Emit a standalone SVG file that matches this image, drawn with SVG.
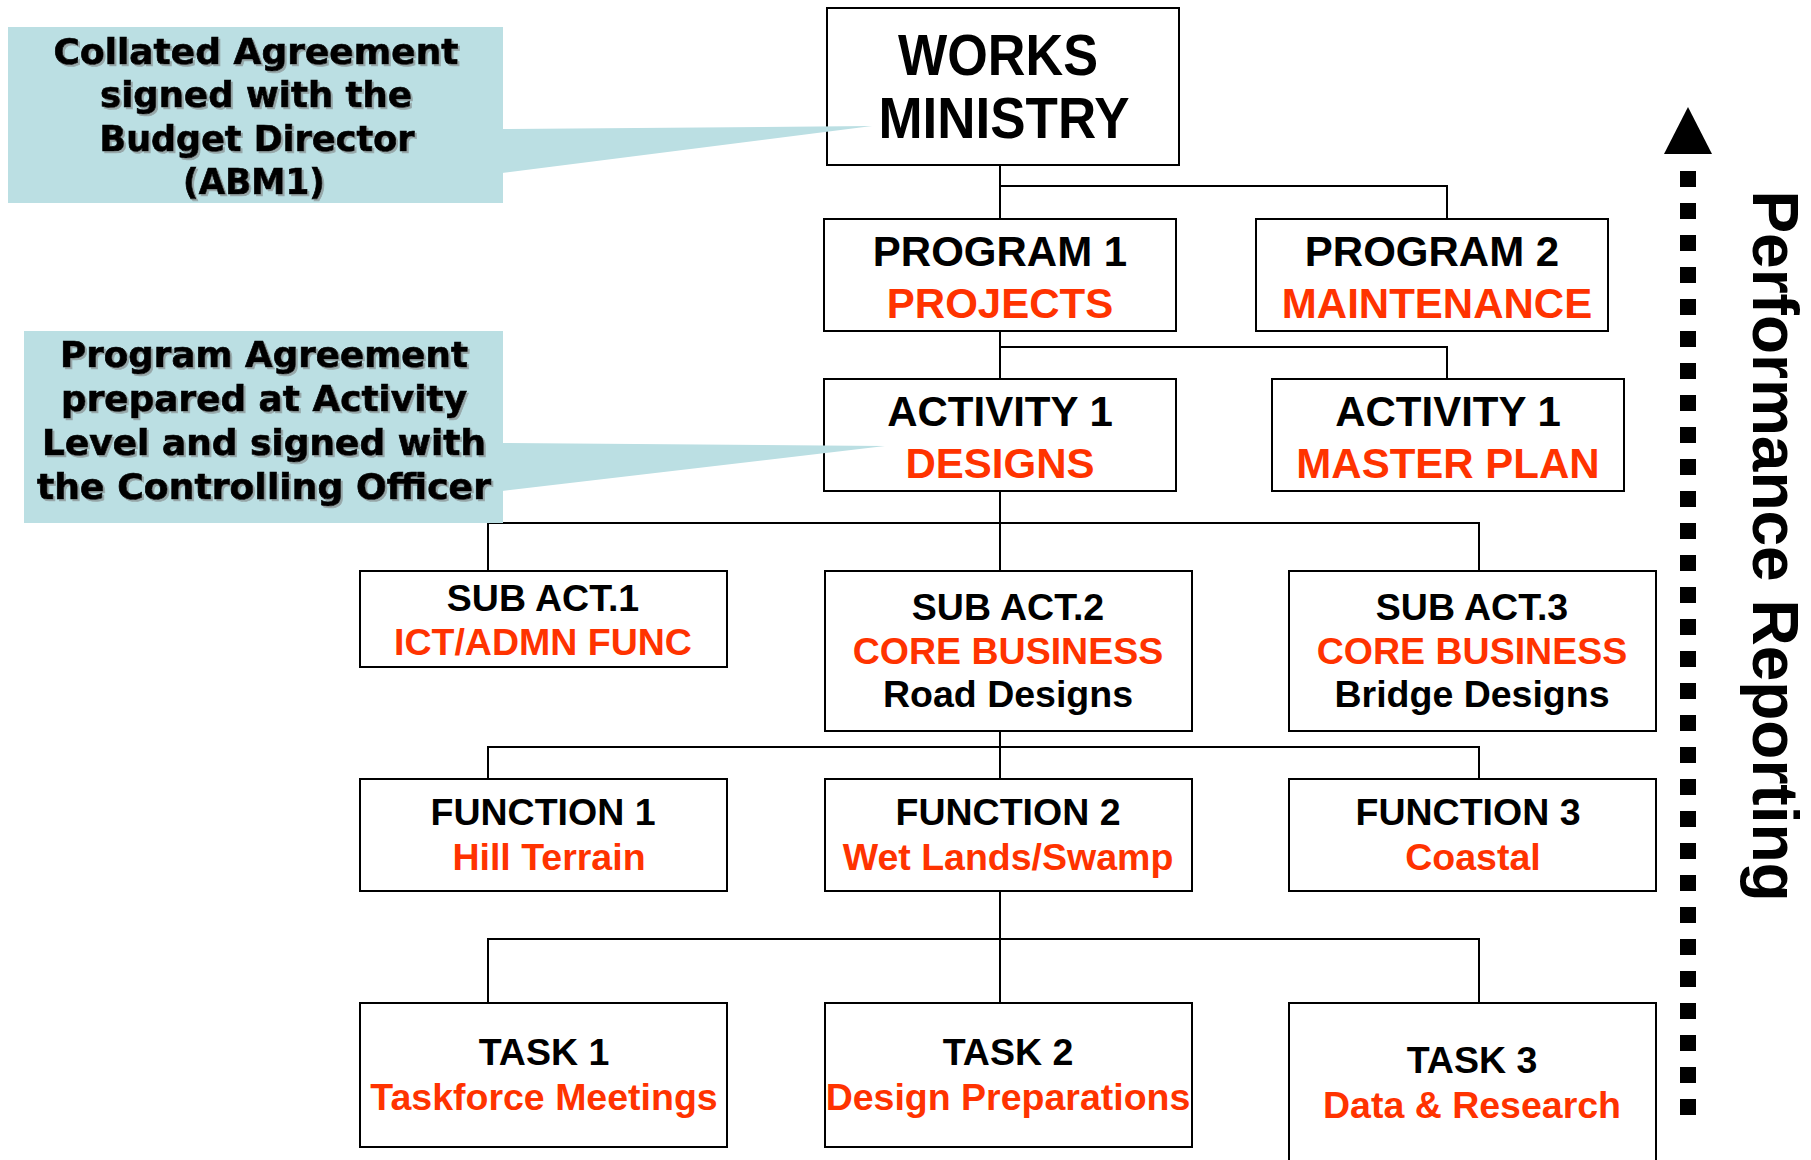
<svg xmlns="http://www.w3.org/2000/svg" width="1811" height="1160" viewBox="0 0 1811 1160">
<defs>
<filter id="sh" x="-5%" y="-10%" width="110%" height="130%">
<feDropShadow dx="2" dy="2" stdDeviation="0.6" flood-color="#777" flood-opacity="0.55"/>
</filter>
</defs>
<style>
.box{fill:#fff;stroke:#000;stroke-width:2}
.con{fill:none;stroke:#000;stroke-width:2}
.call{fill:#bbdfe3}
.t{font-family:"Liberation Sans",Arial,sans-serif;font-weight:bold;text-anchor:middle;fill:#000}
.r{fill:#ff3300}
.big{font-size:57px}
.l1{font-size:42px}
.l2{font-size:37.5px}
.ct{font-family:"DejaVu Sans",Verdana,sans-serif;font-weight:bold;font-size:35px;text-anchor:middle;fill:#000;stroke:#000;stroke-width:0.7}
</style>
<rect width="1811" height="1160" fill="#fff"/>

<g id="connectors">
<path class="con" d="M1000,165 V219 M1000,186 H1447 V219"/>
<path class="con" d="M1000,331 V379 M1000,347 H1447 V379"/>
<path class="con" d="M1000,491 V571 M488,571 V523 H1479 V571"/>
<path class="con" d="M1000,731 V779 M488,779 V747 H1479 V779"/>
<path class="con" d="M1000,891 V1003 M488,1003 V939 H1479 V1003"/>
</g>

<g id="works-ministry">
<rect class="box" x="827" y="8" width="352" height="157"/>
<text class="t big" x="998" y="75" textLength="200" lengthAdjust="spacingAndGlyphs">WORKS</text>
<text class="t big" x="1004" y="138" textLength="251" lengthAdjust="spacingAndGlyphs">MINISTRY</text>
</g>

<g id="program1">
<rect class="box" x="824" y="219" width="352" height="112"/>
<text class="t l1" x="1000" y="266">PROGRAM 1</text>
<text class="t l1 r" x="1000" y="318">PROJECTS</text>
</g>
<g id="program2">
<rect class="box" x="1256" y="219" width="352" height="112"/>
<text class="t l1" x="1432" y="266">PROGRAM 2</text>
<text class="t l1 r" x="1437" y="318">MAINTENANCE</text>
</g>

<g id="activity1-designs">
<rect class="box" x="824" y="379" width="352" height="112"/>
<text class="t l1" x="1000" y="426">ACTIVITY 1</text>
<text class="t l1 r" x="1000" y="478">DESIGNS</text>
</g>
<g id="activity1-masterplan">
<rect class="box" x="1272" y="379" width="352" height="112"/>
<text class="t l1" x="1448" y="426">ACTIVITY 1</text>
<text class="t l1 r" x="1448" y="478">MASTER PLAN</text>
</g>

<g id="subact1">
<rect class="box" x="360" y="571" width="367" height="96"/>
<text class="t l2" x="543" y="611">SUB ACT.1</text>
<text class="t l2 r" x="543" y="655">ICT/ADMN FUNC</text>
</g>
<g id="subact2">
<rect class="box" x="825" y="571" width="367" height="160"/>
<text class="t l2" x="1008" y="620">SUB ACT.2</text>
<text class="t l2 r" x="1008" y="664">CORE BUSINESS</text>
<text class="t l2" x="1008" y="707">Road Designs</text>
</g>
<g id="subact3">
<rect class="box" x="1289" y="571" width="367" height="160"/>
<text class="t l2" x="1472" y="620">SUB ACT.3</text>
<text class="t l2 r" x="1472" y="664">CORE BUSINESS</text>
<text class="t l2" x="1472" y="707">Bridge Designs</text>
</g>

<g id="function1">
<rect class="box" x="360" y="779" width="367" height="112"/>
<text class="t l2" x="543" y="825">FUNCTION 1</text>
<text class="t l2 r" x="549" y="870">Hill Terrain</text>
</g>
<g id="function2">
<rect class="box" x="825" y="779" width="367" height="112"/>
<text class="t l2" x="1008" y="825">FUNCTION 2</text>
<text class="t l2 r" x="1008" y="870">Wet Lands/Swamp</text>
</g>
<g id="function3">
<rect class="box" x="1289" y="779" width="367" height="112"/>
<text class="t l2" x="1468" y="825">FUNCTION 3</text>
<text class="t l2 r" x="1473" y="870">Coastal</text>
</g>

<g id="task1">
<rect class="box" x="360" y="1003" width="367" height="144"/>
<text class="t l2" x="544" y="1065">TASK 1</text>
<text class="t l2 r" x="544" y="1110">Taskforce Meetings</text>
</g>
<g id="task2">
<rect class="box" x="825" y="1003" width="367" height="144"/>
<text class="t l2" x="1008" y="1065">TASK 2</text>
<text class="t l2 r" x="1008" y="1110">Design Preparations</text>
</g>
<g id="task3">
<rect class="box" x="1289" y="1003" width="367" height="170"/>
<text class="t l2" x="1472" y="1073">TASK 3</text>
<text class="t l2 r" x="1472" y="1118">Data &amp; Research</text>
</g>

<g id="callout-abm1">
<rect class="call" x="8" y="27" width="495" height="176"/>
<polygon class="call" points="502,129 872,126 502,173"/>
<g filter="url(#sh)">
<text class="ct" x="256" y="64" textLength="405" lengthAdjust="spacingAndGlyphs">Collated Agreement</text>
<text class="ct" x="256" y="107" textLength="312" lengthAdjust="spacingAndGlyphs">signed with the</text>
<text class="ct" x="257" y="151" textLength="315" lengthAdjust="spacingAndGlyphs">Budget Director</text>
<text class="ct" x="254" y="194" textLength="142" lengthAdjust="spacingAndGlyphs">(ABM1)</text>
</g>
</g>

<g id="callout-program-agreement">
<rect class="call" x="24" y="331" width="479" height="192"/>
<polygon class="call" points="502,443 885,446 502,491"/>
<g filter="url(#sh)">
<text class="ct" x="264" y="367" textLength="408" lengthAdjust="spacingAndGlyphs">Program Agreement</text>
<text class="ct" x="264" y="411" textLength="406" lengthAdjust="spacingAndGlyphs">prepared at Activity</text>
<text class="ct" x="264" y="455" textLength="444" lengthAdjust="spacingAndGlyphs">Level and signed with</text>
<text class="ct" x="264" y="499" textLength="454" lengthAdjust="spacingAndGlyphs">the Controlling Officer</text>
</g>
</g>

<g id="performance-reporting">
<line x1="1688" y1="171" x2="1688" y2="1115" stroke="#000" stroke-width="16" stroke-dasharray="16 16"/>
<polygon points="1664,154 1712,154 1688,107" fill="#000"/>
<text class="t" font-size="64" transform="translate(1753,546) rotate(90)">Performance Reporting</text>
</g>
</svg>
